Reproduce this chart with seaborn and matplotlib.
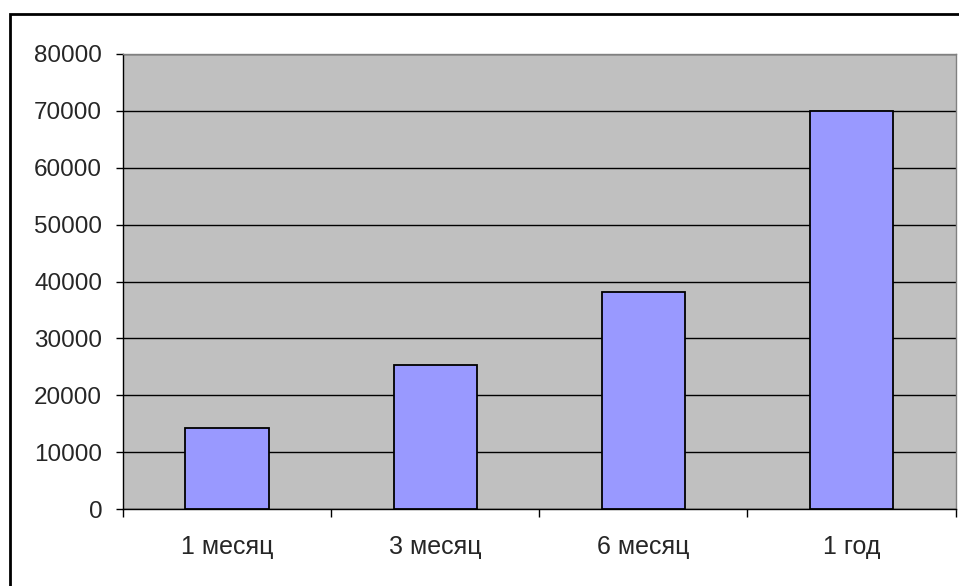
import numpy as np
import pandas as pd
import matplotlib
matplotlib.use('Agg')
import matplotlib.pyplot as plt
import seaborn as sns
from matplotlib.patches import Rectangle

periods = ['1 месяц', '3 месяц', '6 месяц', '1 год']
values = [14200, 25300, 38200, 70000]

df = pd.DataFrame({'period': periods, 'value': values})

sns.set_style('white')
plt.rcParams['font.family'] = ['Liberation Sans', 'DejaVu Sans']

fig = plt.figure(figsize=(9.59, 5.86), dpi=100)
ax = fig.add_axes([123 / 959, 1 - 509 / 586, (955.5 - 123) / 959, (509 - 54) / 586])
ax.set_facecolor('#C0C0C0')

sns.barplot(data=df, x='period', y='value', ax=ax, color='#9999FF',
            width=0.4, edgecolor='black', linewidth=1.3, saturation=1, zorder=3)

# y axis
ax.set_ylim(0, 80000)
ax.set_yticks(np.arange(0, 80001, 10000))
ax.yaxis.grid(True, color='black', linewidth=1, zorder=1)
ax.set_axisbelow(True)
ax.tick_params(axis='y', which='major', direction='out', length=5, width=1,
               color='black', labelsize=17.5, pad=10, left=True)

# x axis: ticks at category boundaries, labels centred
ax.set_xlim(-0.5, 3.5)
ax.set_xticks(np.arange(-0.5, 4, 1))
ax.set_xticklabels([])
ax.set_xticks(range(len(periods)), minor=True)
ax.set_xticklabels(periods, minor=True)
ax.tick_params(axis='x', which='major', direction='out', length=6, width=1,
               color='black', bottom=True)
ax.tick_params(axis='x', which='minor', length=0, labelsize=18, pad=19)

ax.set_xlabel('')
ax.set_ylabel('')

for side in ['left', 'bottom']:
    ax.spines[side].set_color('black')
    ax.spines[side].set_linewidth(1)
for side in ['top', 'right']:
    ax.spines[side].set_color('#808080')
    ax.spines[side].set_linewidth(1)

# outer chart frame (cut off at right and bottom, as in the original)
fig.patches.append(Rectangle((9.5 / 959, -0.05), 1.1, 1 - 14 / 586 + 0.05,
                             transform=fig.transFigure, fill=False,
                             edgecolor='black', linewidth=2, zorder=10))

fig.savefig('out.png', dpi=100)
